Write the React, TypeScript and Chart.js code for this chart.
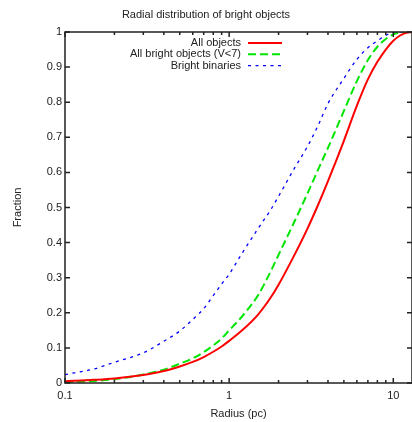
import React, { useEffect, useRef } from 'react';
import { Chart, registerables } from 'chart.js';

Chart.register(...registerables);

const radius = [0.1, 0.15, 0.2, 0.3, 0.4, 0.5, 0.6, 0.7, 0.8, 0.9, 1, 1.2, 1.5, 1.8, 2, 2.5, 3, 3.5, 4, 5, 6, 7, 8, 9, 10, 11, 12, 13];
const allObjects = [0.005, 0.009, 0.013, 0.023, 0.034, 0.047, 0.06, 0.074, 0.089, 0.104, 0.12, 0.15, 0.195, 0.245, 0.28, 0.365, 0.44, 0.51, 0.575, 0.69, 0.79, 0.865, 0.915, 0.95, 0.975, 0.99, 0.998, 1];
const brightObjects = [0.002, 0.006, 0.011, 0.024, 0.038, 0.055, 0.07, 0.088, 0.107, 0.127, 0.15, 0.19, 0.25, 0.32, 0.365, 0.46, 0.54, 0.61, 0.67, 0.775, 0.86, 0.92, 0.958, 0.98, 0.993, 0.999, 1, 1];
const brightBinaries = [0.024, 0.04, 0.059, 0.086, 0.119, 0.148, 0.181, 0.212, 0.249, 0.282, 0.31, 0.37, 0.44, 0.495, 0.532, 0.612, 0.674, 0.736, 0.796, 0.868, 0.922, 0.955, 0.975, 0.99, 1, 1, 1, 1];

const seriesLabels = ['All objects', 'All bright objects (V<7)', 'Bright binaries'];
const xMajorTicks = [0.1, 1, 10];
const xMinorTicks = [0.2, 0.3, 0.4, 0.5, 0.6, 0.7, 0.8, 0.9, 2, 3, 4, 5, 6, 7, 8, 9];
const yTicks = [0, 0.1, 0.2, 0.3, 0.4, 0.5, 0.6, 0.7, 0.8, 0.9, 1];

const FONT = "'Liberation Sans', Arial, sans-serif";
const TEXT = '#222';

const framePlugin = {
  id: 'gnuFrame',
  afterDraw(chart: any) {
    const { ctx, chartArea: a, scales } = chart;
    const xs = scales.x;
    const ys = scales.y;
    ctx.save();
    ctx.strokeStyle = '#222';
    ctx.lineWidth = 1.5;
    ctx.setLineDash([]);
    ctx.beginPath();
    const tick = (x1: number, y1: number, x2: number, y2: number) => {
      ctx.moveTo(x1, y1);
      ctx.lineTo(x2, y2);
    };
    xMajorTicks.forEach((v) => {
      const px = xs.getPixelForValue(v);
      tick(px, a.bottom, px, a.bottom - 5);
      tick(px, a.top, px, a.top + 5);
    });
    xMinorTicks.forEach((v) => {
      const px = xs.getPixelForValue(v);
      tick(px, a.bottom, px, a.bottom - 3);
      tick(px, a.top, px, a.top + 3);
    });
    yTicks.forEach((v) => {
      const py = ys.getPixelForValue(v);
      tick(a.left, py, a.left + 5, py);
      tick(a.right, py, a.right - 5, py);
    });
    ctx.stroke();
    ctx.strokeRect(a.left, a.top, a.right - a.left, a.bottom - a.top);

    // legend inside the plot, text right-aligned before the sample line
    ctx.font = `11px ${FONT}`;
    ctx.textAlign = 'right';
    ctx.textBaseline = 'middle';
    chart.data.datasets.forEach((ds: any, i: number) => {
      const y = 43 + i * 11.3;
      ctx.fillStyle = TEXT;
      ctx.fillText(ds.label, 241, y);
      ctx.beginPath();
      ctx.strokeStyle = ds.borderColor;
      ctx.lineWidth = ds.borderWidth;
      ctx.setLineDash(ds.borderDash || []);
      ctx.moveTo(248, y);
      ctx.lineTo(282, y);
      ctx.stroke();
    });
    ctx.restore();
  },
};

export default function App() {
  const ref = useRef<HTMLCanvasElement | null>(null);
  useEffect(() => {
    if (!ref.current) return;
    const toPts = (vals: number[]) => radius.map((r, i) => ({ x: r, y: vals[i] }));
    const chart = new Chart(ref.current, {
      type: 'line',
      data: {
        datasets: [
          { label: seriesLabels[0], data: toPts(allObjects), borderColor: '#ff0000', borderWidth: 2, pointRadius: 0, cubicInterpolationMode: 'monotone', fill: false },
          { label: seriesLabels[1], data: toPts(brightObjects), borderColor: '#00e600', borderWidth: 2, borderDash: [8, 4], pointRadius: 0, cubicInterpolationMode: 'monotone', fill: false },
          { label: seriesLabels[2], data: toPts(brightBinaries), borderColor: '#0000ff', borderWidth: 1.3, borderDash: [3, 4.5], pointRadius: 0, cubicInterpolationMode: 'monotone', fill: false },
        ],
      } as any,
      options: {
        responsive: false,
        animation: false,
        layout: { padding: 0 },
        plugins: {
          legend: { display: false },
          tooltip: { enabled: false },
          title: {
            display: true,
            text: 'Radial distribution of bright objects',
            color: TEXT,
            font: { family: FONT, size: 11, weight: 'normal' },
            padding: { top: 8, bottom: 10.8 },
          },
        },
        scales: {
          x: {
            type: 'logarithmic',
            min: 0.1,
            max: 13,
            grid: { display: false, drawTicks: false },
            border: { display: false },
            afterBuildTicks: (scale: any) => {
              scale.ticks = [...xMajorTicks, ...xMinorTicks].sort((a, b) => a - b).map((v) => ({ value: v }));
            },
            afterFit: (scale: any) => { scale.height = 39; },
            ticks: {
              autoSkip: false,
              maxRotation: 0,
              padding: 6,
              color: TEXT,
              font: { family: FONT, size: 11 },
              callback: (value: any) => (xMajorTicks.includes(Number(value)) ? String(value) : ''),
            },
            title: {
              display: true,
              text: 'Radius (pc)',
              color: TEXT,
              font: { family: FONT, size: 11 },
              padding: { top: 0, bottom: 1.4 },
            },
          },
          y: {
            type: 'linear',
            min: 0,
            max: 1,
            grid: { display: false, drawTicks: false },
            border: { display: false },
            afterBuildTicks: (scale: any) => {
              scale.ticks = yTicks.map((v) => ({ value: v }));
            },
            afterFit: (scale: any) => { scale.width = 65; },
            ticks: {
              padding: 3,
              color: TEXT,
              font: { family: FONT, size: 11 },
              callback: (value: any) => String(Math.round(Number(value) * 10) / 10),
            },
            title: {
              display: true,
              text: 'Fraction',
              color: TEXT,
              font: { family: FONT, size: 11 },
              padding: { top: 11, bottom: 0 },
            },
          },
        },
      } as any,
      plugins: [framePlugin],
    });
    return () => chart.destroy();
  }, []);
  return (
    <div style={{ position: 'absolute', left: 0, top: 0, width: 412, height: 422, background: '#fff' }}>
      <canvas ref={ref} width={412} height={422} style={{ display: 'block' }} />
    </div>
  );
}
